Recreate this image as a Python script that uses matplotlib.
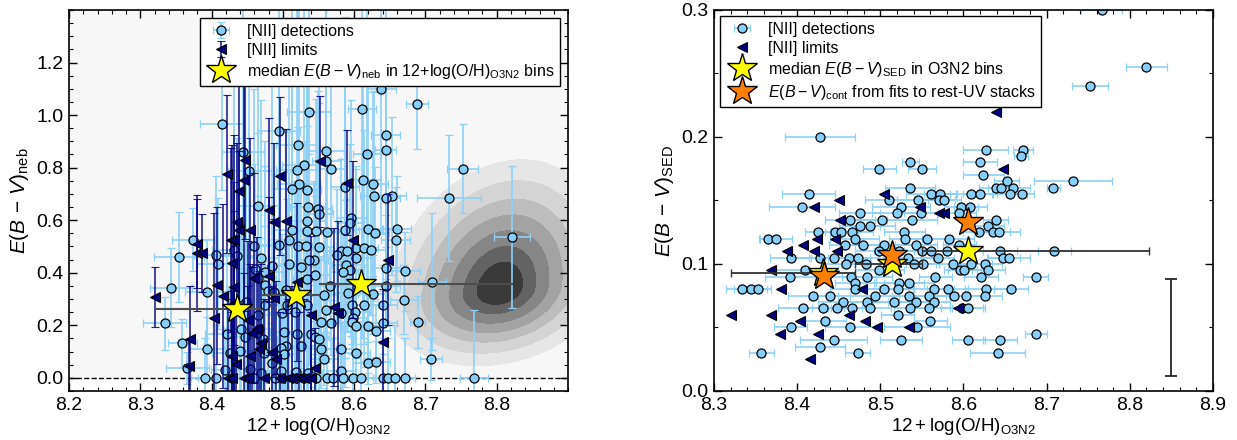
import matplotlib.pyplot as plt
import numpy as np
from matplotlib.ticker import MultipleLocator

plt.rcParams['font.family'] = ['Liberation Sans', 'DejaVu Sans']
plt.rcParams['mathtext.fontset'] = 'custom'
plt.rcParams['mathtext.rm'] = 'Liberation Sans'
plt.rcParams['mathtext.it'] = 'Liberation Sans:italic'
plt.rcParams['mathtext.bf'] = 'Liberation Sans:bold'

# ---------------- left panel: E(B-V)_neb vs O3N2 metallicity ----------------
# [NII] detections (x, y, xerr, yerr)
neb_det_x = [8.688, 8.638, 8.611, 8.536, 8.414, 8.494, 8.644, 8.521, 8.644, 8.561,
             8.444, 8.618, 8.561, 8.529, 8.567, 8.520, 8.453, 8.752, 8.612, 8.522,
             8.627, 8.587, 8.513, 8.534, 8.628, 8.653, 8.644, 8.733, 8.465, 8.535,
             8.549, 8.550, 8.534, 8.596, 8.594, 8.660, 8.619, 8.513, 8.534, 8.547,
             8.562, 8.629, 8.587, 8.821, 8.374, 8.509, 8.658, 8.495, 8.459, 8.521,
             8.533, 8.551, 8.602, 8.614, 8.624, 8.581, 8.590, 8.431, 8.406, 8.354,
             8.436, 8.576, 8.603, 8.469, 8.543, 8.537, 8.409, 8.485, 8.508, 8.526,
             8.589, 8.644, 8.594, 8.672, 8.461, 8.475, 8.585, 8.545, 8.465, 8.709,
             8.534, 8.566, 8.644, 8.343, 8.475, 8.393, 8.479, 8.487, 8.504, 8.592,
             8.626, 8.557, 8.670, 8.597, 8.614, 8.640, 8.534, 8.448, 8.475, 8.506,
             8.561, 8.601, 8.517, 8.499, 8.465, 8.598, 8.581, 8.334, 8.553, 8.567,
             8.597, 8.640, 8.689, 8.603, 8.619, 8.630, 8.441, 8.467, 8.421, 8.447,
             8.502, 8.520, 8.540, 8.545, 8.551, 8.472, 8.359, 8.526, 8.504, 8.497,
             8.581, 8.393, 8.554, 8.602, 8.426, 8.440, 8.474, 8.502, 8.557, 8.708,
             8.619, 8.630, 8.485, 8.366, 8.454, 8.419, 8.582, 8.469, 8.518, 8.535,
             8.498,
             8.391, 8.406, 8.429, 8.459, 8.489, 8.499, 8.519, 8.530, 8.546, 8.562,
             8.571, 8.585, 8.599, 8.609, 8.640, 8.647, 8.657, 8.671, 8.768]
neb_det_y = [1.042, 1.099, 1.023, 1.011, 0.966, 0.938, 0.925, 0.885, 0.867, 0.864,
             0.858, 0.850, 0.824, 0.811, 0.796, 0.792, 0.787, 0.796, 0.752, 0.739,
             0.739, 0.725, 0.720, 0.716, 0.692, 0.693, 0.683, 0.684, 0.653, 0.650,
             0.643, 0.625, 0.596, 0.608, 0.589, 0.568, 0.568, 0.561, 0.558, 0.560,
             0.555, 0.551, 0.564, 0.535, 0.526, 0.526, 0.526, 0.507, 0.501, 0.503,
             0.501, 0.497, 0.494, 0.493, 0.488, 0.484, 0.482, 0.488, 0.469, 0.460,
             0.463, 0.469, 0.456, 0.456, 0.450, 0.450, 0.435, 0.427, 0.433, 0.421,
             0.428, 0.418, 0.409, 0.406, 0.414, 0.402, 0.402, 0.392, 0.380, 0.366,
             0.378, 0.349, 0.349, 0.343, 0.355, 0.327, 0.330, 0.326, 0.336, 0.323,
             0.318, 0.314, 0.298, 0.278, 0.278, 0.278, 0.278, 0.290, 0.279, 0.279,
             0.260, 0.250, 0.250, 0.247, 0.241, 0.228, 0.246, 0.207, 0.213, 0.207,
             0.212, 0.209, 0.212, 0.196, 0.196, 0.180, 0.184, 0.184, 0.167, 0.156,
             0.174, 0.167, 0.167, 0.155, 0.146, 0.146, 0.133, 0.123, 0.120, 0.114,
             0.108, 0.110, 0.108, 0.095, 0.095, 0.104, 0.095, 0.089, 0.072, 0.072,
             0.057, 0.061, 0.057, 0.038, 0.032, 0.029, 0.025, 0.019, 0.022, 0.019,
             0.025,
             0.0, 0.0, 0.0, 0.0, 0.0, 0.0, 0.0, 0.0, 0.0, 0.0,
             0.0, 0.0, 0.0, 0.0, 0.0, 0.0, 0.0, 0.0, 0.0]
neb_det_xerr = [0.015, 0.02, 0.02, 0.03, 0.03, 0.03, 0.02, 0.03, 0.015, 0.025,
                0.03, 0.02, 0.02, 0.03, 0.02, 0.03, 0.03, 0.022, 0.025, 0.03,
                0.02, 0.02, 0.03, 0.02, 0.02, 0.02, 0.02, 0.045, 0.03, 0.025,
                0.02, 0.02, 0.025, 0.02, 0.02, 0.02, 0.02, 0.03, 0.02, 0.02,
                0.02, 0.02, 0.02, 0.025, 0.03, 0.03, 0.02, 0.03, 0.03, 0.02,
                0.02, 0.02, 0.02, 0.02, 0.02, 0.02, 0.02, 0.03, 0.03, 0.035,
                0.03, 0.02, 0.02, 0.025, 0.02, 0.02, 0.03, 0.025, 0.02, 0.02,
                0.02, 0.02, 0.02, 0.02, 0.03, 0.025, 0.02, 0.02, 0.025, 0.02,
                0.02, 0.02, 0.02, 0.03, 0.025, 0.03, 0.02, 0.02, 0.02, 0.02,
                0.02, 0.02, 0.02, 0.02, 0.02, 0.02, 0.02, 0.025, 0.02, 0.02,
                0.02, 0.02, 0.02, 0.02, 0.025, 0.02, 0.02, 0.03, 0.02, 0.02,
                0.02, 0.02, 0.01, 0.02, 0.02, 0.02, 0.025, 0.02, 0.03, 0.025,
                0.02, 0.02, 0.02, 0.02, 0.02, 0.02, 0.02, 0.02, 0.02, 0.02,
                0.02, 0.025, 0.02, 0.02, 0.025, 0.02, 0.02, 0.02, 0.02, 0.015,
                0.02, 0.02, 0.02, 0.03, 0.02, 0.02, 0.02, 0.02, 0.02, 0.02,
                0.02,
                0.02, 0.025, 0.02, 0.02, 0.02, 0.02, 0.02, 0.02, 0.02, 0.02,
                0.02, 0.02, 0.02, 0.02, 0.02, 0.02, 0.02, 0.015, 0.02]
neb_det_yerr = [0.17, 0.55, 0.60, 0.70, 0.25, 0.80, 0.55, 0.65, 0.30, 0.65,
                0.70, 0.60, 0.65, 0.70, 0.50, 0.65, 0.45, 0.17, 0.60, 0.70,
                0.35, 0.65, 0.70, 0.60, 0.40, 0.30, 0.25, 0.24, 0.60, 0.70,
                0.45, 0.50, 0.75, 0.45, 0.30, 0.20, 0.55, 0.75, 0.40, 0.50,
                0.30, 0.25, 0.60, 0.27, 0.12, 0.80, 0.20, 0.85, 0.60, 0.45,
                0.40, 0.55, 0.30, 0.45, 0.25, 0.35, 0.20, 0.70, 0.30, 0.17,
                0.45, 0.25, 0.35, 0.60, 0.30, 0.40, 0.25, 0.70, 0.35, 0.30,
                0.25, 0.20, 0.15, 0.15, 0.40, 0.50, 0.15, 0.30, 0.55, 0.26,
                0.35, 0.15, 0.15, 0.15, 0.45, 0.20, 0.30, 0.45, 0.60, 0.15,
                0.15, 0.25, 0.13, 0.15, 0.15, 0.15, 0.35, 0.50, 0.30, 0.40,
                0.20, 0.12, 0.50, 0.30, 0.45, 0.12, 0.20, 0.10, 0.25, 0.12,
                0.12, 0.12, 0.10, 0.12, 0.12, 0.10, 0.40, 0.35, 0.30, 0.35,
                0.30, 0.25, 0.20, 0.20, 0.15, 0.30, 0.09, 0.20, 0.25, 0.25,
                0.10, 0.12, 0.10, 0.10, 0.25, 0.30, 0.30, 0.20, 0.10, 0.08,
                0.08, 0.08, 0.15, 0.06, 0.20, 0.15, 0.07, 0.15, 0.15, 0.10,
                0.12,
                0.15, 0.20, 0.35, 0.30, 0.25, 0.30, 0.30, 0.25, 0.15, 0.20,
                0.15, 0.20, 0.15, 0.20, 0.15, 0.15, 0.20, 0.15, 0.26]

# [NII] limits (x, y, yerr)
neb_lim_x = [8.321, 8.379, 8.380, 8.387, 8.370, 8.369, 8.404, 8.408, 8.416, 8.421,
             8.427, 8.431, 8.428, 8.435, 8.438, 8.446, 8.447, 8.439, 8.454, 8.431,
             8.432, 8.451, 8.460, 8.464, 8.469, 8.429, 8.434, 8.454, 8.466, 8.485,
             8.491, 8.481, 8.488, 8.504, 8.496, 8.481, 8.457, 8.488, 8.520, 8.552,
             8.590, 8.599, 8.647, 8.640, 8.572, 8.577, 8.539, 8.545,
             8.423, 8.429, 8.445, 8.451, 8.474, 8.496, 8.507, 8.513, 8.522, 8.530,
             8.539]
neb_lim_y = [0.307, 0.510, 0.475, 0.475, 0.148, 0.044, 0.228, 0.352, 0.311, 0.776,
             0.526, 0.526, 0.437, 0.592, 0.710, 0.754, 0.830, 0.564, 0.564, 0.346,
             0.285, 0.222, 0.380, 0.186, 0.133, 0.082, 0.051, 0.082, 0.108, 0.098,
             0.070, 0.640, 0.592, 0.596, 0.767, 0.387, 0.171, 0.304, 0.364, 0.824,
             0.742, 0.526, 0.450, 0.137, 0.270, 0.247, 0.241, 0.038,
             0.0, 0.0, 0.0, 0.0, 0.0, 0.0, 0.0, 0.0, 0.0, 0.0,
             0.0]
neb_lim_yerr = [0.115, 0.17, 0.22, 0.15, 0.20, 0.10, 0.40, 0.30, 0.35, 0.30,
                0.35, 0.40, 0.45, 0.30, 0.45, 0.50, 0.30, 0.30, 0.35, 0.40,
                0.35, 0.30, 0.40, 0.35, 0.30, 0.25, 0.20, 0.35, 0.30, 0.25,
                0.30, 0.35, 0.30, 0.35, 0.30, 0.30, 0.25, 0.30, 0.30, 0.25,
                0.20, 0.30, 0.25, 0.20, 0.30, 0.35, 0.30, 0.15,
                0.30, 0.25, 0.40, 0.35, 0.30, 0.25, 0.30, 0.35, 0.25, 0.30,
                0.25]

# binned medians and bin edges
bin_lo = [8.321, 8.47, 8.55]
bin_hi = [8.47, 8.55, 8.823]
neb_med_x = [8.436, 8.518, 8.609]
neb_med_y = [0.262, 0.315, 0.358]

# local comparison sample density (contour shape parameters)
kde_center = (8.805, 0.34)
kde_sx = (0.065, 0.062)    # left / right widths
kde_sy = (0.12, 0.20)      # lower / upper widths
kde_rho = 0.2
kde_radii = [2.45, 2.05, 1.7, 1.4, 1.1, 0.8, 0.5]
kde_colors = ['#f7f7f7', '#e6e6e6', '#d4d4d4', '#bdbdbd', '#a3a3a3',
              '#868686', '#636363', '#3a3a3a', '#161616']

# ---------------- right panel: E(B-V)_SED vs O3N2 metallicity ----------------
sed_det_x = [8.766, 8.820, 8.752, 8.427, 8.627, 8.671, 8.669, 8.536, 8.620, 8.499,
             8.550, 8.624, 8.732, 8.639, 8.645, 8.660, 8.708, 8.652, 8.536, 8.414,
             8.561, 8.572, 8.609, 8.620, 8.656, 8.670, 8.511, 8.545, 8.570, 8.577,
             8.406, 8.525, 8.597, 8.608, 8.475, 8.520, 8.549, 8.595, 8.463, 8.502,
             8.538, 8.639, 8.425, 8.445, 8.453, 8.466, 8.475, 8.488, 8.529, 8.619,
             8.629, 8.636, 8.643, 8.365, 8.374, 8.469, 8.530, 8.556, 8.583, 8.458,
             8.479, 8.505, 8.543, 8.595, 8.392, 8.428, 8.444, 8.462, 8.473, 8.499,
             8.522, 8.550, 8.561, 8.580, 8.644, 8.709, 8.648, 8.655, 8.569, 8.533,
             8.409, 8.459, 8.483, 8.499, 8.540, 8.551, 8.587, 8.609, 8.626, 8.596,
             8.601, 8.630, 8.391, 8.465, 8.484, 8.566, 8.621, 8.687, 8.534, 8.522,
             8.470, 8.334, 8.344, 8.353, 8.469, 8.505, 8.521, 8.564, 8.581, 8.627,
             8.657, 8.419, 8.439, 8.493, 8.534, 8.559, 8.588, 8.603, 8.626, 8.455,
             8.484, 8.516, 8.543, 8.564, 8.407, 8.431, 8.448, 8.466, 8.488, 8.536,
             8.559, 8.598, 8.606, 8.521, 8.434, 8.560, 8.392, 8.463, 8.544, 8.687,
             8.444, 8.525, 8.606, 8.644, 8.427, 8.357, 8.473, 8.641]
sed_det_y = [0.300, 0.255, 0.240, 0.200, 0.190, 0.190, 0.185, 0.180, 0.180, 0.175,
             0.175, 0.170, 0.165, 0.160, 0.160, 0.160, 0.160, 0.165, 0.160, 0.155,
             0.155, 0.155, 0.155, 0.155, 0.155, 0.155, 0.150, 0.150, 0.150, 0.150,
             0.145, 0.145, 0.145, 0.145, 0.140, 0.140, 0.140, 0.140, 0.135, 0.135,
             0.135, 0.135, 0.125, 0.125, 0.125, 0.125, 0.130, 0.130, 0.125, 0.125,
             0.130, 0.125, 0.125, 0.120, 0.120, 0.120, 0.120, 0.120, 0.120, 0.115,
             0.115, 0.115, 0.115, 0.115, 0.105, 0.105, 0.105, 0.105, 0.105, 0.110,
             0.110, 0.110, 0.110, 0.110, 0.110, 0.110, 0.105, 0.105, 0.105, 0.105,
             0.095, 0.100, 0.100, 0.095, 0.100, 0.100, 0.100, 0.100, 0.100, 0.095,
             0.095, 0.095, 0.090, 0.090, 0.090, 0.090, 0.090, 0.090, 0.085, 0.085,
             0.085, 0.080, 0.080, 0.080, 0.080, 0.080, 0.080, 0.080, 0.080, 0.080,
             0.080, 0.075, 0.075, 0.075, 0.075, 0.075, 0.075, 0.075, 0.075, 0.070,
             0.070, 0.070, 0.070, 0.070, 0.065, 0.065, 0.065, 0.065, 0.065, 0.065,
             0.065, 0.065, 0.065, 0.060, 0.055, 0.055, 0.050, 0.050, 0.050, 0.045,
             0.040, 0.040, 0.040, 0.040, 0.035, 0.030, 0.030, 0.030]
sed_det_xerr = [0.025, 0.025, 0.022, 0.042, 0.027, 0.012, 0.008, 0.010, 0.020, 0.020,
                0.017, 0.025, 0.047, 0.020, 0.015, 0.020, 0.008, 0.015, 0.030, 0.032,
                0.030, 0.020, 0.025, 0.020, 0.020, 0.015, 0.030, 0.025, 0.020, 0.020,
                0.040, 0.035, 0.020, 0.020, 0.025, 0.030, 0.020, 0.020, 0.030, 0.035,
                0.030, 0.015, 0.015, 0.020, 0.020, 0.025, 0.025, 0.030, 0.025, 0.020,
                0.020, 0.020, 0.025, 0.010, 0.020, 0.030, 0.020, 0.030, 0.030, 0.020,
                0.020, 0.035, 0.025, 0.020, 0.025, 0.040, 0.030, 0.025, 0.025, 0.030,
                0.030, 0.030, 0.020, 0.020, 0.020, 0.020, 0.020, 0.025, 0.020, 0.030,
                0.040, 0.030, 0.030, 0.030, 0.030, 0.020, 0.020, 0.025, 0.020, 0.020,
                0.020, 0.020, 0.030, 0.030, 0.030, 0.020, 0.020, 0.015, 0.030, 0.030,
                0.025, 0.020, 0.020, 0.015, 0.030, 0.030, 0.020, 0.025, 0.025, 0.025,
                0.020, 0.030, 0.025, 0.030, 0.020, 0.020, 0.020, 0.020, 0.020, 0.030,
                0.025, 0.025, 0.020, 0.020, 0.030, 0.025, 0.030, 0.025, 0.025, 0.020,
                0.025, 0.025, 0.020, 0.020, 0.025, 0.020, 0.020, 0.030, 0.040, 0.013,
                0.040, 0.025, 0.020, 0.020, 0.030, 0.015, 0.015, 0.033]

sed_lim_x = [8.639, 8.648, 8.505, 8.450, 8.420, 8.452, 8.570, 8.576, 8.548, 8.424,
             8.445, 8.407, 8.388, 8.420, 8.448, 8.368, 8.380, 8.321, 8.368, 8.403,
             8.462, 8.482, 8.379, 8.425, 8.496, 8.534, 8.416, 8.478, 8.593]
sed_lim_y = [0.220, 0.175, 0.155, 0.150, 0.145, 0.135, 0.140, 0.140, 0.145, 0.120,
             0.120, 0.115, 0.110, 0.110, 0.110, 0.095, 0.080, 0.060, 0.060, 0.055,
             0.060, 0.055, 0.045, 0.045, 0.050, 0.050, 0.025, 0.080, 0.065]

sed_med_x = [8.431, 8.514, 8.605]
sed_med_y = [0.093, 0.100, 0.110]
cont_x = [8.432, 8.514, 8.606]
cont_y = [0.0905, 0.107, 0.133]

# typical uncertainty bar
typ_x, typ_y, typ_err = 8.85, 0.05, 0.038

det_face = '#87cefa'
det_bar = '#8fd0f6'
lim_bar = (0.0, 0.0, 0.5, 0.85)

fig = plt.figure(figsize=(12.37, 4.4), dpi=100)
ax1 = fig.add_axes([0.0558, 0.1114, 0.4034, 0.866])
ax2 = fig.add_axes([0.5772, 0.1114, 0.4034, 0.866])

# ---- left panel ----
gx, gy = np.meshgrid(np.linspace(8.18, 8.92, 300), np.linspace(0.0, 1.45, 300))
dx = gx - kde_center[0]
dy = gy - kde_center[1]
u = dx / np.where(dx < 0, kde_sx[0], kde_sx[1])
v = dy / np.where(dy < 0, kde_sy[0], kde_sy[1])
q = (u**2 + v**2 - 2 * kde_rho * u * v) / (1 - kde_rho**2)
dens = np.exp(-0.5 * q)
levels = [0.0] + [np.exp(-0.5 * r**2) for r in kde_radii] + [1.01]
ax1.contourf(gx, gy, dens, levels=levels, colors=kde_colors, zorder=0)

ax1.axhline(0.0, color='k', ls='--', lw=1, zorder=1.5)

h_det1 = ax1.errorbar(neb_det_x, neb_det_y, xerr=neb_det_xerr, yerr=neb_det_yerr,
                      fmt='o', ms=6.5, mfc=det_face, mec='k', mew=0.9,
                      ecolor=det_bar, elinewidth=1.2, capsize=3, capthick=1.2,
                      zorder=2)
h_lim1 = ax1.errorbar(neb_lim_x, neb_lim_y, yerr=neb_lim_yerr,
                      fmt='<', ms=7.5, mfc='navy', mec='k', mew=0.8,
                      ecolor=lim_bar, elinewidth=1.2, capsize=3, capthick=1.2,
                      zorder=2.2)
ax1.errorbar(neb_med_x, neb_med_y,
             xerr=[np.subtract(neb_med_x, bin_lo), np.subtract(bin_hi, neb_med_x)],
             fmt='none', ecolor='0.3', elinewidth=1.5, zorder=4)
h_med1, = ax1.plot(neb_med_x, neb_med_y, '*', ms=22, mfc='yellow', mec='k',
                   mew=1, zorder=5)

ax1.set_xlim(8.2, 8.9)
ax1.set_ylim(-0.05, 1.4)
ax1.set_xticks([8.2, 8.3, 8.4, 8.5, 8.6, 8.7, 8.8])
ax1.set_yticks([0.0, 0.2, 0.4, 0.6, 0.8, 1.0, 1.2])
ax1.xaxis.set_minor_locator(MultipleLocator(0.02))
ax1.yaxis.set_minor_locator(MultipleLocator(0.05))
ax1.set_xlabel(r'$12+\log({\rm O/H})_{\rm O3N2}$', fontsize=13.5, labelpad=2)
ax1.set_ylabel(r'$E(B\,-\,V)_{\rm neb}$', fontsize=15, labelpad=4)
ax1.legend([h_det1, h_lim1, h_med1],
           ['[NII] detections', '[NII] limits',
            r'median $E(B-V)_{\rm neb}$ in 12+log(O/H)$_{\rm O3N2}$ bins'],
           loc='upper right', fontsize=11.5, fancybox=False, framealpha=1,
           edgecolor='k', borderaxespad=0.5, labelspacing=0.25,
           handletextpad=0.6, borderpad=0.35).set_zorder(10)

# ---- right panel ----
h_det2 = ax2.errorbar(sed_det_x, sed_det_y, xerr=sed_det_xerr,
                      fmt='o', ms=6.5, mfc=det_face, mec='k', mew=0.9,
                      ecolor=det_bar, elinewidth=1.2, capsize=3, capthick=1.2,
                      zorder=2)
h_lim2, = ax2.plot(sed_lim_x, sed_lim_y, '<', ms=7.5, mfc='navy', mec='k',
                   mew=0.8, zorder=2.2)
ax2.errorbar(sed_med_x, sed_med_y,
             xerr=[np.subtract(sed_med_x, bin_lo), np.subtract(bin_hi, sed_med_x)],
             fmt='none', ecolor='0.2', elinewidth=1.3, capsize=3, zorder=4)
h_med2, = ax2.plot(sed_med_x, sed_med_y, '*', ms=22, mfc='yellow', mec='k',
                   mew=1, zorder=5)
h_cont, = ax2.plot(cont_x, cont_y, '*', ms=22, mfc='#ff8000', mec='k',
                   mew=1, zorder=6)
ax2.errorbar([typ_x], [typ_y], yerr=[typ_err], fmt='none', ecolor='0.15',
             elinewidth=1.3, capsize=4, capthick=1.3, zorder=4)

ax2.set_xlim(8.3, 8.9)
ax2.set_ylim(0.0, 0.3)
ax2.set_xticks([8.3, 8.4, 8.5, 8.6, 8.7, 8.8, 8.9])
ax2.set_yticks([0.0, 0.1, 0.2, 0.3])
ax2.xaxis.set_minor_locator(MultipleLocator(0.02))
ax2.yaxis.set_minor_locator(MultipleLocator(0.05))
ax2.set_xlabel(r'$12+\log({\rm O/H})_{\rm O3N2}$', fontsize=13.5, labelpad=2)
ax2.set_ylabel(r'$E(B\,-\,V)_{\rm SED}$', fontsize=15, labelpad=4)
ax2.legend([h_det2, h_lim2, h_med2, h_cont],
           ['[NII] detections', '[NII] limits',
            r'median $E(B-V)_{\rm SED}$ in O3N2 bins',
            r'$E(B-V)_{\rm cont}$ from fits to rest-UV stacks'],
           loc='upper left', fontsize=11.5, fancybox=False, framealpha=1,
           edgecolor='k', borderaxespad=0.4, labelspacing=0.25,
           handletextpad=0.6, borderpad=0.35).set_zorder(10)

for ax in (ax1, ax2):
    ax.tick_params(which='both', direction='in', top=True, right=True,
                   labelsize=14, pad=4)
    ax.tick_params(which='major', length=6, width=1)
    ax.tick_params(which='minor', length=3, width=0.8)
    for s in ax.spines.values():
        s.set_linewidth(1.2)

fig.savefig('out.png', dpi=100)
